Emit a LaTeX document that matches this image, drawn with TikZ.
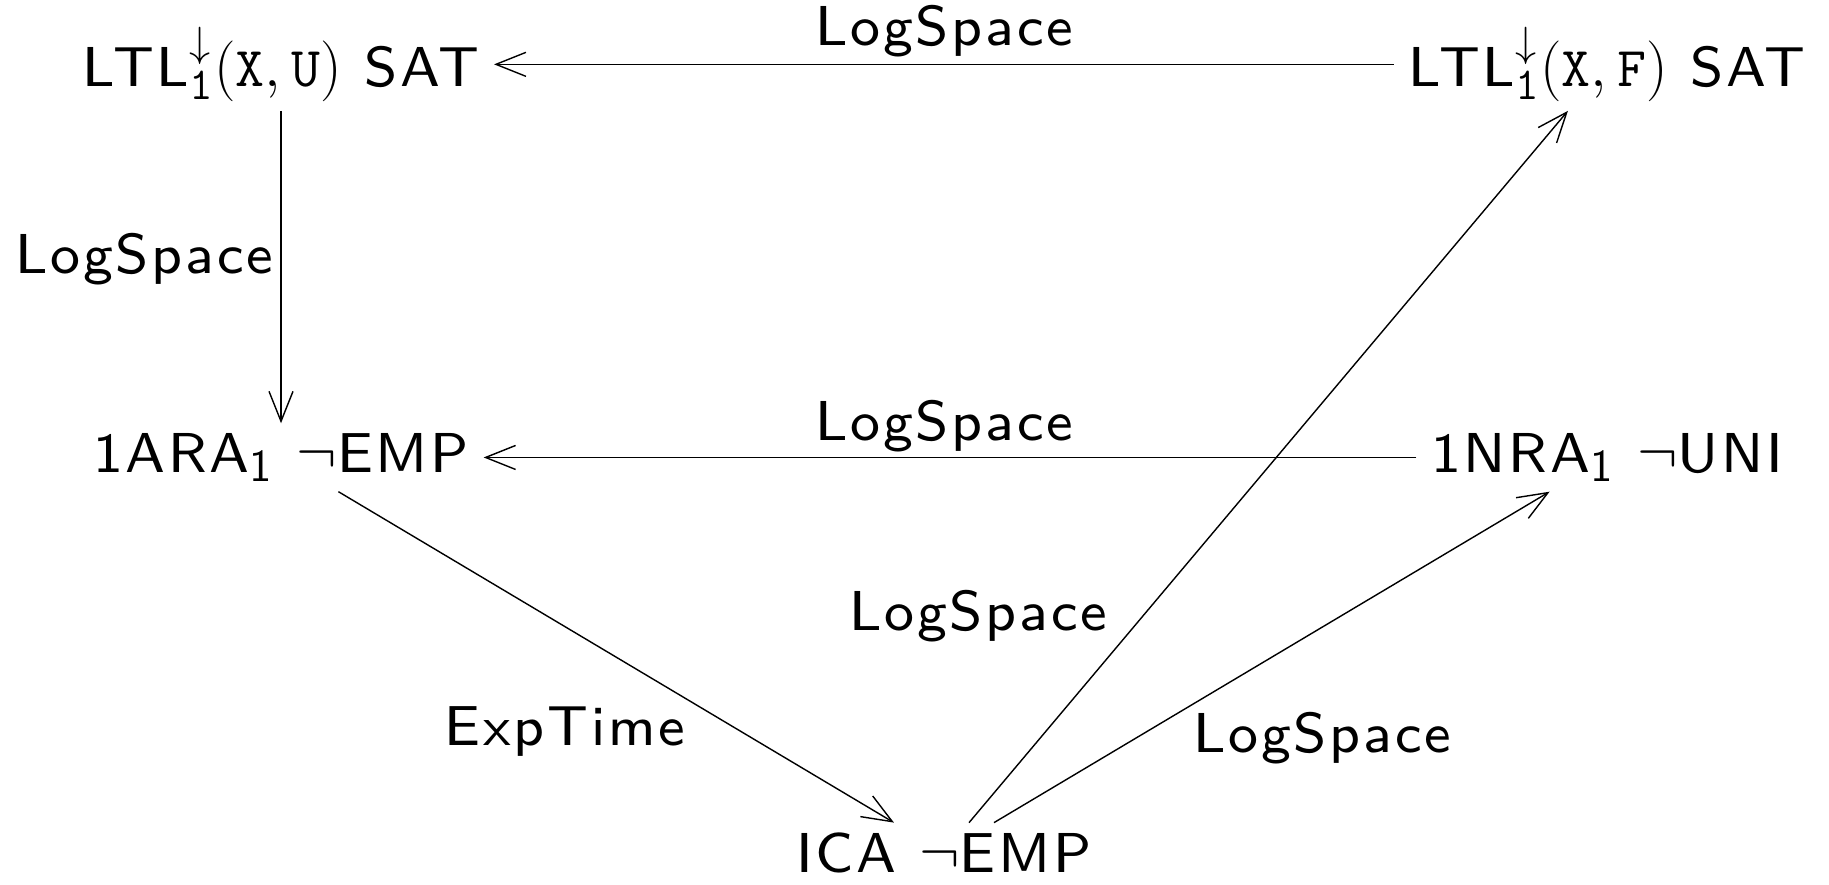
\documentclass[tikz,border=0pt]{standalone}
\usepackage{fontspec}
\usetikzlibrary{arrows.meta}
\newfontfamily\lsf[LetterSpace=5]{lmsans8-regular.otf}
\DeclareMathSizes{16}{16}{13}{10}
\newcommand\lab{\lsf\fontsize{16pt}{19pt}\selectfont}
\tikzset{
  obj/.style={inner xsep=0.14cm, inner ysep=0.09cm, anchor=base, font=\lab},
  lbl/.style={inner sep=0pt, anchor=base, font=\lab},
  arr/.style={line width=0.4pt, -{Straight Barb[length=0.3cm,width=0.24cm]}}
}
\begin{document}
\begin{tikzpicture}[x=0.01cm,y=-0.01cm]
\useasboundingbox (0,0) rectangle (1829,884);
\node[obj] (tl) at (281,86) {LTL$^{\downarrow}_{\mathtt{1}}(\mathtt{X},\mathtt{U})$ SAT};
\node[obj] (tr) at (1607,86) {LTL$^{\downarrow}_{\mathtt{1}}(\mathtt{X},\mathtt{F})$ SAT};
\node[obj] (ml) at (281,472) {1ARA$_{\mathsf{1}}$ $\neg$EMP};
\node[obj] (mr) at (1607,472) {1NRA$_{\mathsf{1}}$ $\neg$UNI};
\node[obj] (bot) at (944,872) {ICA $\neg$EMP};
\draw[arr] (tr) -- (tl);
\draw[arr] (tl) -- (ml);
\draw[arr] (mr) -- (ml);
\draw[arr] (ml) -- (bot);
\draw[arr] (bot) -- (tr);
\draw[arr] (bot) -- (mr);
\node[lbl] (l1) at (944,45) {LogSpace};
\node[lbl] (l2) at (144,273) {LogSpace};
\node[lbl] (l3) at (944,440) {LogSpace};
\node[lbl] (l4) at (565,745) {ExpTime};
\node[lbl] (l5) at (978,630) {LogSpace};
\node[lbl] (l6) at (1322,752) {LogSpace};
\end{tikzpicture}
\end{document}
